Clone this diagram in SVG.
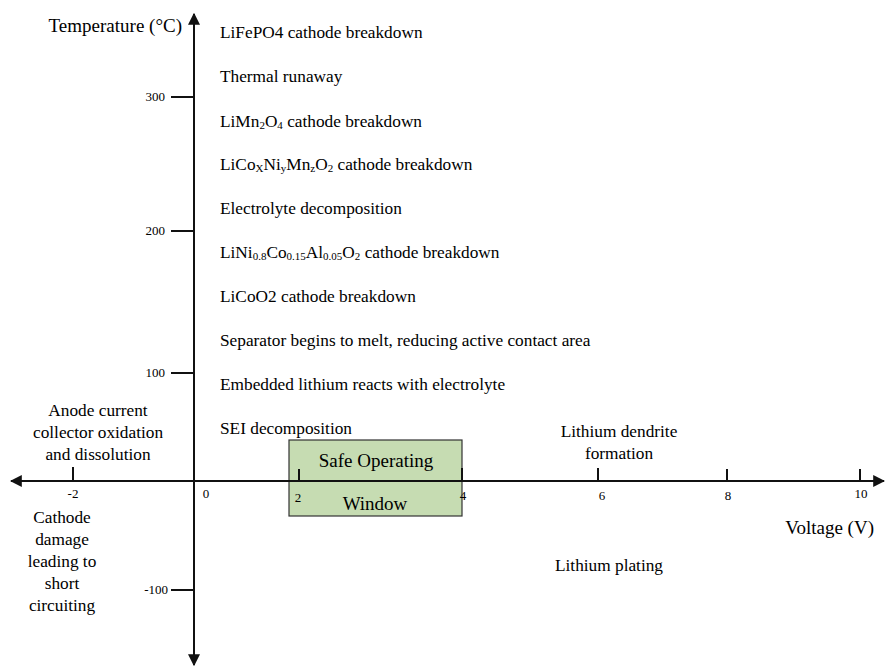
<svg xmlns="http://www.w3.org/2000/svg" width="885" height="670" viewBox="0 0 885 670">
<style>
text{font-family:"Liberation Serif","Times New Roman",serif;fill:#000}
.lbl{font-size:17.3px}
.box{font-size:19px}
.ttl{font-size:19px}
.num{font-size:13px}
.axis{stroke:#111;stroke-width:2;fill:none}
.tick{stroke:#111;stroke-width:2}
.c{text-anchor:middle}
</style>
<defs>
<marker id="arr" viewBox="0 0 10 10" refX="9" refY="5" markerWidth="6" markerHeight="6" orient="auto" markerUnits="strokeWidth">
<path d="M0,0 L10,5 L0,10 z" fill="#111"/>
</marker>
</defs>
<rect width="885" height="670" fill="#fff"/>
<g id="safe-window">
<rect x="289" y="440" width="173" height="76" fill="#c6dcb2" stroke="#333" stroke-width="1.2"/>
<text class="box c" x="376" y="467">Safe Operating</text>
<text class="box c" x="375" y="510">Window</text>
</g>
<g id="axes">
<line class="axis" x1="194" y1="660" x2="194" y2="14" marker-end="url(#arr)"/>
<line class="axis" x1="194" y1="481" x2="194" y2="665" marker-end="url(#arr)"/>
<line class="axis" x1="194" y1="481" x2="11" y2="481" marker-end="url(#arr)"/>
<line class="axis" x1="194" y1="481" x2="884" y2="481" marker-end="url(#arr)"/>
<line class="tick" x1="171" y1="97" x2="194" y2="97"/>
<line class="tick" x1="171" y1="231" x2="194" y2="231"/>
<line class="tick" x1="171" y1="373" x2="194" y2="373"/>
<line class="tick" x1="171" y1="590" x2="194" y2="590"/>
<line class="tick" x1="73" y1="467" x2="73" y2="481"/>
<line class="tick" x1="299" y1="469" x2="299" y2="481"/>
<line class="tick" x1="462" y1="468" x2="462" y2="481"/>
<line class="tick" x1="598" y1="468" x2="598" y2="481"/>
<line class="tick" x1="727" y1="469" x2="727" y2="481"/>
<line class="tick" x1="860" y1="469" x2="860" y2="481"/>
<text class="num" x="165" y="101" text-anchor="end">300</text>
<text class="num" x="165" y="235" text-anchor="end">200</text>
<text class="num" x="165" y="377" text-anchor="end">100</text>
<text class="num" x="168" y="594" text-anchor="end">-100</text>
<text class="num c" x="73" y="498">-2</text>
<text class="num c" x="206" y="498">0</text>
<text class="num c" x="298" y="502">2</text>
<text class="num c" x="463" y="500">4</text>
<text class="num c" x="602" y="500">6</text>
<text class="num c" x="728" y="500">8</text>
<text class="num c" x="861" y="498">10</text>
<text class="ttl" x="182" y="32" text-anchor="end">Temperature (°C)</text>
<text class="ttl" x="874" y="534" text-anchor="end">Voltage (V)</text>
</g>
<g id="events">
<text class="lbl" x="220" y="38">LiFePO4 cathode breakdown</text>
<text class="lbl" x="220" y="82">Thermal runaway</text>
<text class="lbl" x="220" y="127">LiMn<tspan font-size="11" dy="2">2</tspan><tspan dy="-2">O</tspan><tspan font-size="11" dy="2">4</tspan><tspan dy="-2"> cathode breakdown</tspan></text>
<text class="lbl" x="220" y="170">LiCo<tspan font-size="11" dy="2">X</tspan><tspan dy="-2">Ni</tspan><tspan font-size="11" dy="2">y</tspan><tspan dy="-2">Mn</tspan><tspan font-size="11" dy="2">z</tspan><tspan dy="-2">O</tspan><tspan font-size="11" dy="2">2</tspan><tspan dy="-2"> cathode breakdown</tspan></text>
<text class="lbl" x="220" y="214">Electrolyte decomposition</text>
<text class="lbl" x="220" y="258">LiNi<tspan font-size="11" dy="2">0.8</tspan><tspan dy="-2">Co</tspan><tspan font-size="11" dy="2">0.15</tspan><tspan dy="-2">Al</tspan><tspan font-size="11" dy="2">0.05</tspan><tspan dy="-2">O</tspan><tspan font-size="11" dy="2">2</tspan><tspan dy="-2"> cathode breakdown</tspan></text>
<text class="lbl" x="220" y="302">LiCoO2 cathode breakdown</text>
<text class="lbl" x="220" y="346">Separator begins to melt, reducing active contact area</text>
<text class="lbl" x="220" y="390">Embedded lithium reacts with electrolyte</text>
<text class="lbl" x="220" y="434">SEI decomposition</text>
</g>
<g id="anode">
<text class="lbl c" x="98" y="416">Anode current</text>
<text class="lbl c" x="98" y="438">collector oxidation</text>
<text class="lbl c" x="98" y="460">and dissolution</text>
</g>
<g id="cathode">
<text class="lbl c" x="62" y="523">Cathode</text>
<text class="lbl c" x="62" y="545">damage</text>
<text class="lbl c" x="62" y="567">leading to</text>
<text class="lbl c" x="62" y="589">short</text>
<text class="lbl c" x="62" y="611">circuiting</text>
</g>
<g id="dendrite">
<text class="lbl c" x="619" y="437">Lithium dendrite</text>
<text class="lbl c" x="619" y="459">formation</text>
</g>
<g id="plating">
<text class="lbl c" x="609" y="571">Lithium plating</text>
</g>
</svg>
